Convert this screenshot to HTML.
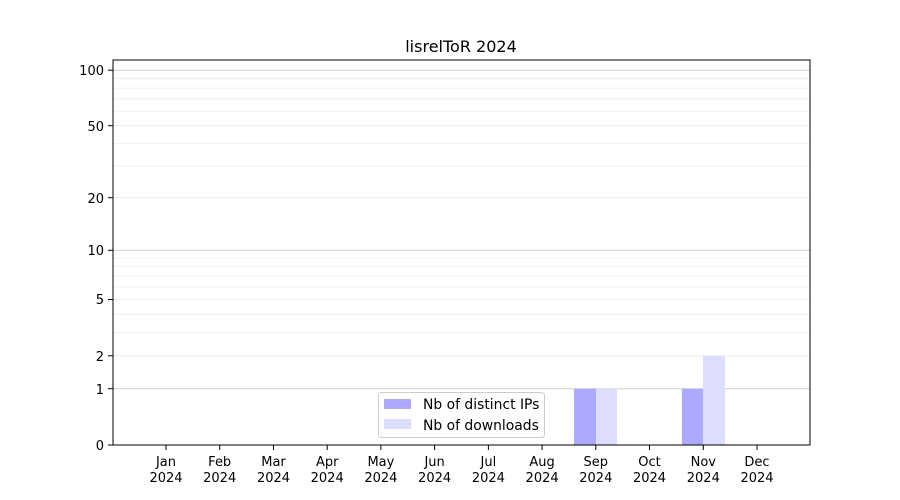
<!DOCTYPE html><html><head><style>body{margin:0;background:#fff}svg{display:block;font-family:"DejaVu Sans","Liberation Sans",sans-serif}</style></head><body>
<svg width="900" height="500" xmlns="http://www.w3.org/2000/svg">
<rect width="900" height="500" fill="#fff"/>
<g stroke="#ebebeb" stroke-width="0.8">
<line x1="113" x2="810" y1="355.8" y2="355.8"/><line x1="113" x2="810" y1="332.4" y2="332.4"/><line x1="113" x2="810" y1="314.3" y2="314.3"/><line x1="113" x2="810" y1="299.5" y2="299.5"/><line x1="113" x2="810" y1="287" y2="287"/><line x1="113" x2="810" y1="276.1" y2="276.1"/><line x1="113" x2="810" y1="266.6" y2="266.6"/><line x1="113" x2="810" y1="258" y2="258"/>
<line x1="113" x2="810" y1="197.7" y2="197.7"/><line x1="113" x2="810" y1="166.1" y2="166.1"/><line x1="113" x2="810" y1="143.4" y2="143.4"/><line x1="113" x2="810" y1="125.7" y2="125.7"/><line x1="113" x2="810" y1="111.1" y2="111.1"/><line x1="113" x2="810" y1="98.8" y2="98.8"/><line x1="113" x2="810" y1="88.1" y2="88.1"/><line x1="113" x2="810" y1="78.7" y2="78.7"/>
</g>
<g stroke="#cfcfcf" stroke-width="1">
<line x1="113" x2="810" y1="388.7" y2="388.7"/><line x1="113" x2="810" y1="250.3" y2="250.3"/><line x1="113" x2="810" y1="70.2" y2="70.2"/>
</g>
<rect x="574" y="388.7" width="22" height="56.3" fill="#aaaaff"/>
<rect x="596" y="388.7" width="21" height="56.3" fill="#ddddff"/>
<rect x="682" y="388.7" width="21" height="56.3" fill="#aaaaff"/>
<rect x="703" y="355.8" width="22" height="89.2" fill="#ddddff"/>
<rect x="113" y="60" width="697" height="385" fill="none" stroke="#000" stroke-width="1"/>
<g stroke="#000" stroke-width="1">
<line x1="108" x2="113" y1="445" y2="445"/><line x1="108" x2="113" y1="388.7" y2="388.7"/><line x1="108" x2="113" y1="355.8" y2="355.8"/><line x1="108" x2="113" y1="299.5" y2="299.5"/><line x1="108" x2="113" y1="250.3" y2="250.3"/><line x1="108" x2="113" y1="197.7" y2="197.7"/><line x1="108" x2="113" y1="125.7" y2="125.7"/><line x1="108" x2="113" y1="70.2" y2="70.2"/>
</g>
<g font-size="13" text-anchor="end" fill="#000">
<text x="104" y="450">0</text><text x="104" y="394">1</text><text x="104" y="361">2</text><text x="104" y="304">5</text><text x="104" y="255">10</text><text x="104" y="203">20</text><text x="104" y="131">50</text><text x="104" y="75">100</text>
</g>
<g font-size="13" text-anchor="middle" fill="#000">
<g stroke="#000"><line x1="166" x2="166" y1="445" y2="450"/><line x1="219.7" x2="219.7" y1="445" y2="450"/><line x1="273.5" x2="273.5" y1="445" y2="450"/><line x1="327.2" x2="327.2" y1="445" y2="450"/><line x1="380.9" x2="380.9" y1="445" y2="450"/><line x1="434.6" x2="434.6" y1="445" y2="450"/><line x1="488.4" x2="488.4" y1="445" y2="450"/><line x1="542.1" x2="542.1" y1="445" y2="450"/><line x1="595.8" x2="595.8" y1="445" y2="450"/><line x1="649.5" x2="649.5" y1="445" y2="450"/><line x1="703.3" x2="703.3" y1="445" y2="450"/><line x1="757" x2="757" y1="445" y2="450"/></g>
<text x="166" y="466">Jan</text><text x="166" y="482">2024</text>
<text x="219.7" y="466">Feb</text><text x="219.7" y="482">2024</text>
<text x="273.5" y="466">Mar</text><text x="273.5" y="482">2024</text>
<text x="327.2" y="466">Apr</text><text x="327.2" y="482">2024</text>
<text x="380.9" y="466">May</text><text x="380.9" y="482">2024</text>
<text x="434.6" y="466">Jun</text><text x="434.6" y="482">2024</text>
<text x="488.4" y="466">Jul</text><text x="488.4" y="482">2024</text>
<text x="542.1" y="466">Aug</text><text x="542.1" y="482">2024</text>
<text x="595.8" y="466">Sep</text><text x="595.8" y="482">2024</text>
<text x="649.5" y="466">Oct</text><text x="649.5" y="482">2024</text>
<text x="703.3" y="466">Nov</text><text x="703.3" y="482">2024</text>
<text x="757" y="466">Dec</text><text x="757" y="482">2024</text>
</g>
<text x="461" y="52" font-size="16" text-anchor="middle">lisrelToR 2024</text>
<rect x="378.5" y="392.5" width="166" height="45" rx="3" fill="#fff" fill-opacity="0.8" stroke="#ccc"/>
<rect x="384" y="399" width="27" height="10" fill="#aaaaff"/>
<rect x="384" y="419" width="27" height="10" fill="#ddddff"/>
<text x="423" y="409" font-size="13.9">Nb of distinct IPs</text>
<text x="423" y="430" font-size="13.9">Nb of downloads</text>
</svg></body></html>
